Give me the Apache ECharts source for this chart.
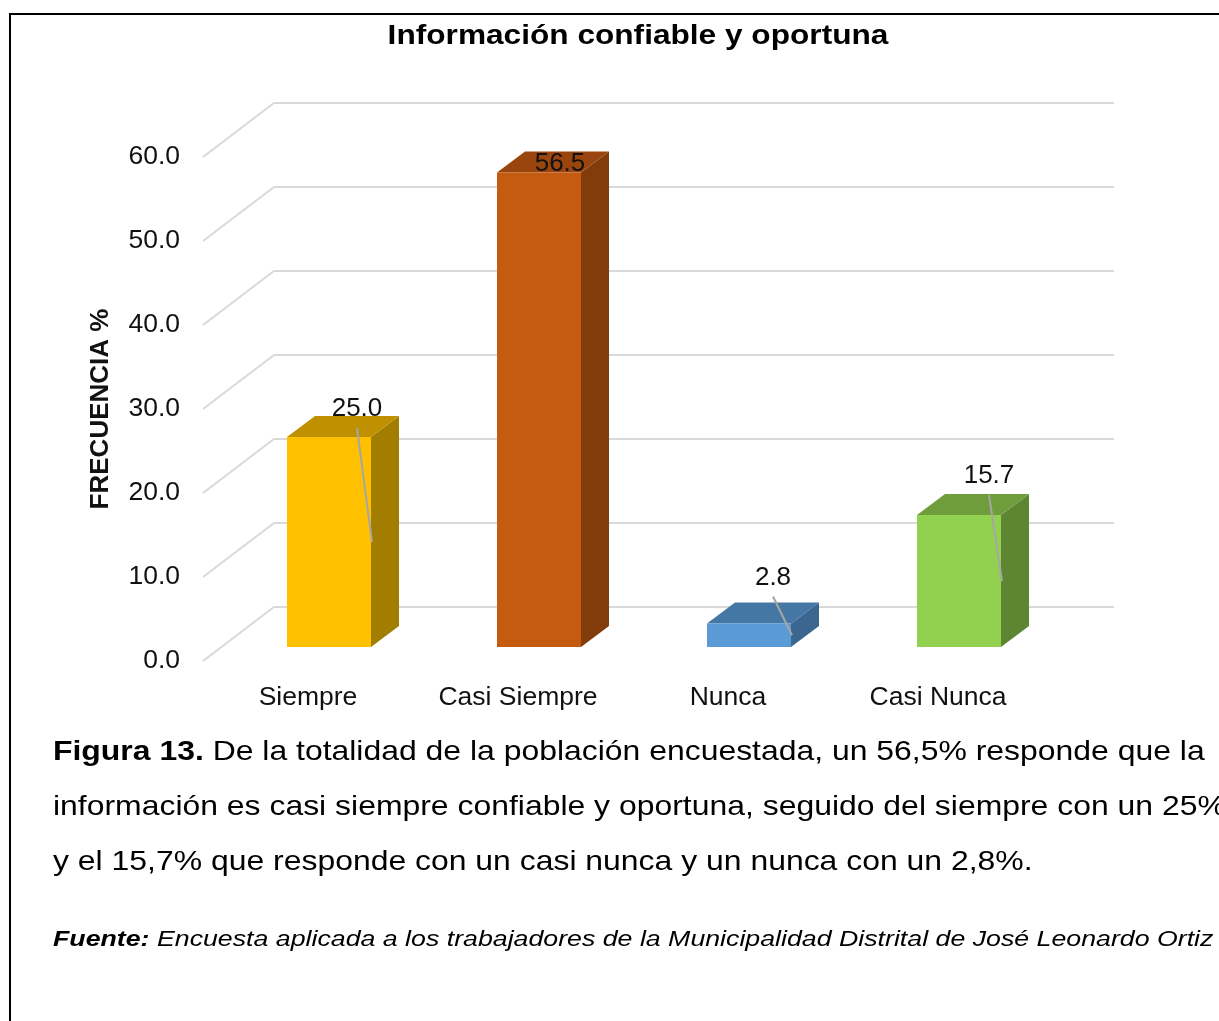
<!DOCTYPE html>
<html>
<head>
<meta charset="utf-8">
<script src="https://cdn.jsdelivr.net/npm/echarts@6/dist/echarts.min.js"></script>
<style>
html,body{margin:0;padding:0;background:#fff;}
#chart{width:1219px;height:1021px;}
</style>
</head>
<body>
<div id="chart"></div>
<script>
// ---- data ----
const categories = ['Siempre', 'Casi Siempre', 'Nunca', 'Casi Nunca'];
const values = [25.0, 56.5, 2.8, 15.7];
const yTicks = [0, 10, 20, 30, 40, 50, 60];
const chartTitle = 'Información confiable y oportuna';
const yAxisName = 'FRECUENCIA %';
const captionLines = [
  '{b|Figura 13.} De la totalidad de la población encuestada, un 56,5% responde que la',
  'información es casi siempre confiable y oportuna, seguido del siempre con un 25%',
  'y el 15,7% que responde con un casi nunca y un nunca con un 2,8%.'
];
const sourceLine = '{b|Fuente:} Encuesta aplicada a los trabajadores de la Municipalidad Distrital de José Leonardo Ortiz';

// ---- styles ----
const faceColors = [
  { front: '#FFC000', top: '#BF9000', side: '#A27D00' },
  { front: '#C55A11', top: '#9A450D', side: '#823B0B' },
  { front: '#5B9BD5', top: '#4577A4', side: '#3A6690' },
  { front: '#92D050', top: '#6F9D3C', side: '#5E8632' }
];
// manual label nudges (dx, dy relative to bar front-top centre)
const labelNudge = [[28, -28], [21, -9], [24, -46], [30, -39]];
const leader = [true, false, true, true];

const FONT = '"Liberation Sans", Arial, sans-serif';
const barOff = { x: 21, y: -14 };   // front face offset from front plane
const depth = { x: 28, y: -21 };    // bar depth
const halfW = 42;

const chart = echarts.init(document.getElementById('chart'), null, { renderer: 'canvas' });

function renderBar(params, api) {
  const i = api.value(0), v = api.value(1);
  const base = api.coord([i, 0]);
  const top = api.coord([i, v]);
  const cx = base[0] + barOff.x;
  const x0 = cx - halfW, x1 = cx + halfW;
  const yb = base[1] + barOff.y, yt = top[1] + barOff.y;
  const c = faceColors[i];
  return {
    type: 'group',
    children: [
      { type: 'polygon', shape: { points: [[x1, yt], [x1 + depth.x, yt + depth.y], [x1 + depth.x, yb + depth.y], [x1, yb]] }, style: { fill: c.side } },
      { type: 'polygon', shape: { points: [[x0, yt], [x1, yt], [x1 + depth.x, yt + depth.y], [x0 + depth.x, yt + depth.y]] }, style: { fill: c.top } },
      { type: 'rect', shape: { x: x0, y: yt, width: x1 - x0, height: yb - yt }, style: { fill: c.front } }
    ]
  };
}

function renderLabel(params, api) {
  const i = api.value(0), v = api.value(1);
  const base = api.coord([i, 0]);
  const top = api.coord([i, v]);
  const cx = base[0] + barOff.x;
  const x1 = cx + halfW;
  const yb = base[1] + barOff.y, yt = top[1] + barOff.y;
  const lx = cx + labelNudge[i][0], ly = yt + labelNudge[i][1];
  const children = [];
  if (leader[i]) {
    children.push({ type: 'line', shape: { x1: lx, y1: ly + 19, x2: x1 + 1, y2: (yt + yb) / 2 }, style: { stroke: '#A6A6A6', lineWidth: 2 } });
  }
  children.push({ type: 'text', x: lx, y: ly, style: { text: v.toFixed(1), font: '26px ' + FONT, fill: '#111', align: 'center', verticalAlign: 'middle' } });
  return { type: 'group', children };
}

function renderDiag(params, api) {
  const t = api.value(1);
  const p = api.coord([0, t]);
  const x = params.coordSys.x;
  return { type: 'line', shape: { x1: x - 71, y1: p[1] + 54, x2: x, y2: p[1] }, style: { stroke: '#D9D9D9', lineWidth: 2 } };
}

const graphics = [
  { type: 'line', shape: { x1: 9, y1: 14, x2: 1219, y2: 14 }, style: { stroke: '#000', lineWidth: 2 } },
  { type: 'line', shape: { x1: 10, y1: 14, x2: 10, y2: 1021 }, style: { stroke: '#000', lineWidth: 2 } },
  { type: 'text', x: 638, y: 36, scaleX: 1.15, style: { text: chartTitle, font: 'bold 27.5px ' + FONT, fill: '#000', align: 'center', verticalAlign: 'middle' } }
];
const capY = [752, 807, 862];
captionLines.forEach((t, k) => {
  graphics.push({ type: 'text', x: 53, y: capY[k], scaleX: 1.14, style: { text: t, font: '28px ' + FONT, fill: '#000', verticalAlign: 'middle', rich: { b: { font: 'bold 28px ' + FONT, fill: '#000' } } } });
});
graphics.push({ type: 'text', x: 53, y: 940, scaleX: 1.215, style: { text: sourceLine, font: 'italic 22px ' + FONT, fill: '#000', verticalAlign: 'middle', rich: { b: { font: 'italic bold 22px ' + FONT, fill: '#000' } } } });

const option = {
  animation: false,
  backgroundColor: '#fff',
  grid: [
    { left: 203, top: 157, width: 840, height: 504 },
    { left: 274, top: 103, width: 840, height: 504 }
  ],
  xAxis: [
    { type: 'category', gridIndex: 0, data: categories, axisLine: { show: false }, axisTick: { show: false },
      axisLabel: { margin: 23, fontSize: 26.5, fontFamily: FONT, color: '#111' } },
    { type: 'category', gridIndex: 1, data: categories, show: false }
  ],
  yAxis: [
    { type: 'value', gridIndex: 0, min: 0, max: 60, interval: 10, axisLine: { show: false }, axisTick: { show: false }, splitLine: { show: false },
      axisLabel: { margin: 23, fontSize: 26.5, fontFamily: FONT, color: '#111', padding: [4, 0, 0, 0], formatter: v => v.toFixed(1) },
      name: yAxisName, nameLocation: 'middle', nameGap: 89, nameRotate: 90,
      nameTextStyle: { fontSize: 26, fontWeight: 'bold', fontFamily: FONT, color: '#111' } },
    { type: 'value', gridIndex: 1, min: 0, max: 60, interval: 10, axisLine: { show: false }, axisTick: { show: false }, axisLabel: { show: false },
      splitLine: { show: true, lineStyle: { color: '#D9D9D9', width: 2 } } }
  ],
  series: [
    { type: 'custom', xAxisIndex: 1, yAxisIndex: 1, renderItem: renderDiag, data: yTicks.map(t => [0, t]), z: 1, silent: true },
    { type: 'custom', xAxisIndex: 0, yAxisIndex: 0, renderItem: renderBar, data: values.map((v, i) => [i, v]), z: 3 },
    { type: 'custom', xAxisIndex: 0, yAxisIndex: 0, renderItem: renderLabel, data: values.map((v, i) => [i, v]), z: 5 }
  ],
  graphic: graphics
};
chart.setOption(option);
</script>
</body>
</html>
